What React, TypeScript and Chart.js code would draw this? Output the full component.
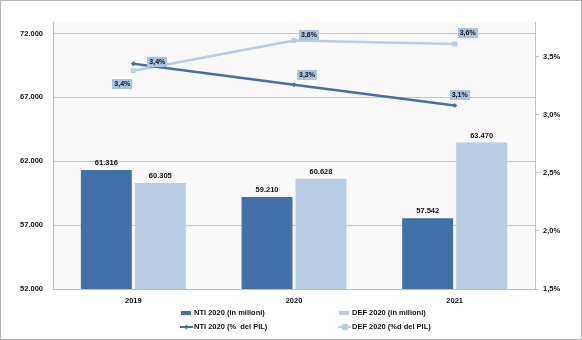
import React, { useEffect, useRef } from "react";
import { Chart, registerables } from "chart.js";

Chart.register(...registerables);

const categories = ["2019", "2020", "2021"];
const ntiMilioni = [61316, 59210, 57542];
const defMilioni = [60305, 60628, 63470];
const ntiPil = [3.44, 3.26, 3.08];
const defPil = [3.38, 3.64, 3.61];
const leftTicks = [52000, 57000, 62000, 67000, 72000];
const rightTicks = [1.5, 2.0, 2.5, 3.0, 3.5];
const seriesNames = [
  "NTI 2020 (in milioni)",
  "DEF 2020 (in milioni)",
  "NTI 2020 (%  del PIL)",
  "DEF 2020 (%d del PIL)",
];

// label box offsets (styling) relative to each point
const ntiLabelOffsets = [[24, -2], [13, -10], [5, -11]];
const defLabelOffsets = [[-11, 13], [15, -6], [13, -11]];

const DARK = "#4170AB";
const LIGHT = "#B8CCE4";
const LABELBOX = "#A9C3E6";
const TEXT = "#111111";
const AXIS = "#BFBFBF";
const FONT = "'Liberation Sans', Arial, sans-serif";

const fmtThousands = (v: number) =>
  Math.round(v).toString().replace(/\B(?=(\d{3})+(?!\d))/g, ".");
const fmtPct = (v: number) => v.toFixed(1).replace(".", ",") + "%";

const decor = {
  id: "decor",
  beforeDraw(chart: any) {
    const { ctx, chartArea: a } = chart;
    ctx.save();
    ctx.fillStyle = "#ffffff";
    ctx.fillRect(0, 0, chart.width, chart.height);
    ctx.fillStyle = "#F9F9F9";
    ctx.fillRect(a.left, a.top, a.right - a.left, a.bottom - a.top);
    ctx.strokeStyle = "#B5B5B5";
    ctx.lineWidth = 1;
    ctx.strokeRect(0.5, 0.5, chart.width - 1, chart.height - 1);
    ctx.restore();
  },
  afterDatasetsDraw(chart: any) {
    const { ctx } = chart;
    ctx.save();
    // bar value labels
    ctx.font = `bold 7.5px ${FONT}`;
    ctx.fillStyle = TEXT;
    ctx.textAlign = "center";
    ctx.textBaseline = "middle";
    [0, 1].forEach((di) => {
      const meta = chart.getDatasetMeta(di);
      const vals = chart.data.datasets[di].data as number[];
      meta.data.forEach((el: any, j: number) => {
        ctx.fillText(fmtThousands(vals[j]), el.x, el.y - 7);
      });
    });
    // point labels with boxes
    ctx.font = `bold 7px ${FONT}`;
    const drawBoxes = (di: number, offs: number[][]) => {
      const meta = chart.getDatasetMeta(di);
      const vals = chart.data.datasets[di].data as number[];
      meta.data.forEach((el: any, j: number) => {
        const t = fmtPct(vals[j]);
        const cx = el.x + offs[j][0];
        const cy = el.y + offs[j][1];
        const w = ctx.measureText(t).width + 4;
        const h = 10;
        ctx.fillStyle = LABELBOX;
        ctx.fillRect(Math.round(cx - w / 2), Math.round(cy - h / 2), Math.round(w), h);
        ctx.fillStyle = TEXT;
        ctx.fillText(t, cx, cy + 0.5);
      });
    };
    drawBoxes(3, defLabelOffsets);
    drawBoxes(2, ntiLabelOffsets);
    ctx.restore();
  },
  afterDraw(chart: any) {
    const { ctx } = chart;
    ctx.save();
    ctx.font = `bold 7.5px ${FONT}`;
    ctx.fillStyle = TEXT;
    ctx.textAlign = "left";
    ctx.textBaseline = "middle";
    const r1 = 313;
    const r2 = 327;
    const c1 = 181;
    const c2 = 339;
    // row 1: bar swatches
    ctx.fillStyle = DARK;
    ctx.fillRect(c1, r1 - 2, 10, 4);
    ctx.fillStyle = LIGHT;
    ctx.fillRect(c2, r1 - 2, 10, 4);
    ctx.fillStyle = TEXT;
    ctx.fillText(seriesNames[0], c1 + 13, r1);
    ctx.fillText(seriesNames[1], c2 + 13, r1);
    // row 2: line swatches
    ctx.lineWidth = 2;
    ctx.strokeStyle = DARK;
    ctx.beginPath();
    ctx.moveTo(c1 - 1, r2);
    ctx.lineTo(c1 + 12, r2);
    ctx.stroke();
    ctx.fillStyle = DARK;
    ctx.beginPath();
    ctx.moveTo(c1 + 5.5, r2 - 2.5);
    ctx.lineTo(c1 + 8, r2);
    ctx.lineTo(c1 + 5.5, r2 + 2.5);
    ctx.lineTo(c1 + 3, r2);
    ctx.closePath();
    ctx.fill();
    ctx.strokeStyle = LIGHT;
    ctx.beginPath();
    ctx.moveTo(c2 - 1, r2);
    ctx.lineTo(c2 + 12, r2);
    ctx.stroke();
    ctx.fillStyle = LIGHT;
    ctx.fillRect(c2 + 3, r2 - 3, 6, 6);
    ctx.fillStyle = TEXT;
    ctx.fillText(seriesNames[2], c1 + 13, r2);
    ctx.fillText(seriesNames[3], c2 + 13, r2);
    ctx.restore();
  },
};

export default function App() {
  const ref = useRef<HTMLCanvasElement | null>(null);
  useEffect(() => {
    if (!ref.current) return;
    const tickFont = { family: FONT, size: 7.5, weight: "bold" as const };
    const chart = new Chart(ref.current, {
      type: "bar",
      data: {
        labels: categories,
        datasets: [
          {
            type: "bar",
            label: seriesNames[0],
            data: ntiMilioni,
            backgroundColor: DARK,
            yAxisID: "y",
            order: 2,
            categoryPercentage: 0.672,
            barPercentage: 0.944,
          },
          {
            type: "bar",
            label: seriesNames[1],
            data: defMilioni,
            backgroundColor: LIGHT,
            yAxisID: "y",
            order: 2,
            categoryPercentage: 0.672,
            barPercentage: 0.944,
          },
          {
            type: "line",
            label: seriesNames[2],
            data: ntiPil,
            borderColor: DARK,
            backgroundColor: DARK,
            borderWidth: 2.5,
            pointStyle: "rectRot",
            pointRadius: 2.5,
            pointBorderWidth: 0,
            pointBackgroundColor: DARK,
            yAxisID: "y1",
            order: 0,
          },
          {
            type: "line",
            label: seriesNames[3],
            data: defPil,
            borderColor: LIGHT,
            backgroundColor: LIGHT,
            borderWidth: 2.5,
            pointStyle: "rect",
            pointRadius: 3.5,
            pointBorderWidth: 0,
            pointBackgroundColor: LIGHT,
            yAxisID: "y1",
            order: 1,
          },
        ] as any,
      },
      options: {
        responsive: false,
        animation: false,
        layout: { padding: { top: 22, left: 0, right: 0, bottom: 0 } },
        plugins: {
          legend: { display: false },
          tooltip: { enabled: false },
        },
        scales: {
          x: {
            offset: true,
            grid: { display: false, drawTicks: false },
            border: { display: true, color: AXIS, width: 1 },
            ticks: { font: tickFont, color: TEXT, padding: 7 },
            afterFit: (s: any) => {
              s.height = 51;
            },
          },
          y: {
            position: "left",
            min: 52000,
            max: 72900,
            afterBuildTicks: (s: any) => {
              s.ticks = leftTicks.map((v) => ({ value: v }));
            },
            grid: { color: "#C8C8C8", lineWidth: 1, drawTicks: false },
            border: { display: true, color: AXIS, width: 1 },
            ticks: {
              font: tickFont,
              color: TEXT,
              padding: 10,
              callback: (v: any) => fmtThousands(Number(v)),
            },
            afterFit: (s: any) => {
              s.width = 53;
            },
          },
          y1: {
            position: "right",
            min: 1.5,
            max: 3.8,
            afterBuildTicks: (s: any) => {
              s.ticks = rightTicks.map((v) => ({ value: v }));
            },
            grid: { drawOnChartArea: false, drawTicks: true, tickLength: 4, color: AXIS },
            border: { display: true, color: AXIS, width: 1 },
            ticks: {
              font: tickFont,
              color: TEXT,
              padding: 4,
              callback: (v: any) => fmtPct(Number(v)),
            },
            afterFit: (s: any) => {
              s.width = 47;
            },
          },
        },
      } as any,
      plugins: [decor],
    });
    return () => chart.destroy();
  }, []);
  return (
    <div style={{ position: "fixed", left: 0, top: 0, width: 582, height: 340 }}>
      <canvas ref={ref} width={582} height={340} style={{ display: "block" }} />
    </div>
  );
}
